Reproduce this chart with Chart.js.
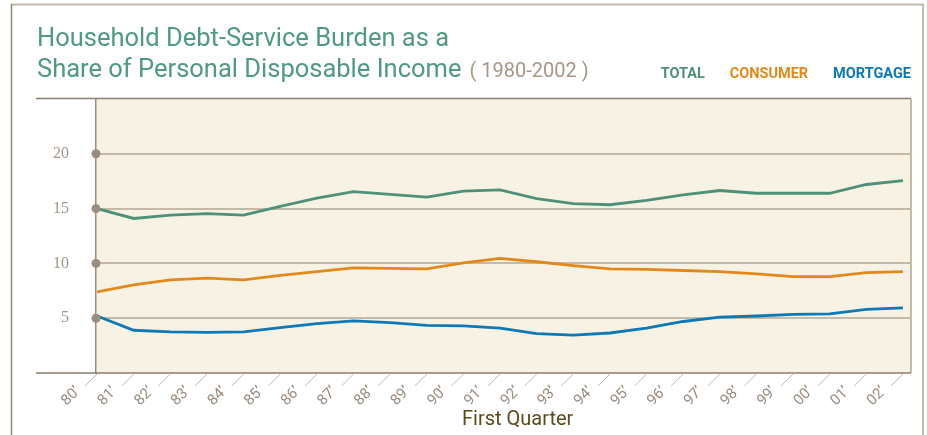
<!DOCTYPE html>
<html>
<head>
<meta charset="utf-8">
<title>Household Debt-Service Burden</title>
<script src="https://cdn.jsdelivr.net/npm/chart.js@4.4.1/dist/chart.umd.min.js"></script>
<style>
    html, body { margin: 0; padding: 0; background: #ffffff; }
    #wrap { width: 927px; height: 435px; }
</style>
</head>
<body>
<div id="wrap"><canvas id="debtChart" width="927" height="435"></canvas></div>
<script>
// First-quarter readings, 1980-2002 (percent of disposable income)
const years = ["80’", "81’", "82’", "83’", "84’", "85’", "86’", "87’", "88’", "89’", "90’", "91’",
    "92’", "93’", "94’", "95’", "96’", "97’", "98’", "99’", "00’", "01’", "02’"];
const totalBurden = [15.0, 14.1, 14.4, 14.55, 14.4, 15.2, 15.95, 16.55, 16.3, 16.05, 16.6, 16.7,
    15.9, 15.45, 15.35, 15.75, 16.25, 16.65, 16.4, 16.4, 16.4, 17.2, 17.55];
const consumerBurden = [7.4, 8.05, 8.5, 8.65, 8.5, 8.9, 9.25, 9.6, 9.55, 9.5, 10.05, 10.45,
    10.15, 9.8, 9.5, 9.45, 9.35, 9.25, 9.05, 8.8, 8.8, 9.15, 9.25];
const mortgageBurden = [5.2, 3.9, 3.75, 3.7, 3.75, 4.15, 4.5, 4.75, 4.6, 4.35, 4.3, 4.1,
    3.6, 3.45, 3.65, 4.1, 4.7, 5.1, 5.2, 5.35, 5.4, 5.8, 5.95];
const yTicks = [5, 10, 15, 20];

const GREEN = '#4d917a';
const ORANGE = '#e3891c';
const BLUE = '#0a79b4';
const TAUPE = '#9a8c7e';
const RULE = '#c5b9a7';

function toPoints(values) {
    return values.map((v, i) => ({ x: i, y: v }));
}

// Background, frame, header text, dots and slanted ticks
const decorPlugin = {
    id: 'decor',
    beforeDraw(chart) {
        const { ctx, chartArea: a } = chart;
        ctx.save();
        ctx.fillStyle = '#ffffff';
        ctx.fillRect(0, 0, chart.width, chart.height);
        ctx.fillStyle = '#f8f2e4';
        ctx.fillRect(a.left, a.top, a.right - a.left, a.bottom - a.top);
        ctx.restore();
    },
    afterDraw(chart) {
        const { ctx, chartArea: a, scales } = chart;
        ctx.save();

        // outer frame
        ctx.strokeStyle = '#c4bbae';
        ctx.lineWidth = 2;
        ctx.beginPath();
        ctx.moveTo(11, 4.5); ctx.lineTo(924, 4.5);
        ctx.moveTo(923, 4); ctx.lineTo(923, 435);
        ctx.stroke();
        ctx.strokeStyle = '#938676';
        ctx.lineWidth = 1.5;
        ctx.beginPath();
        ctx.moveTo(11.5, 4); ctx.lineTo(11.5, 435);
        ctx.stroke();

        // right edge of plot
        ctx.strokeStyle = RULE;
        ctx.lineWidth = 2;
        ctx.beginPath();
        ctx.moveTo(a.right, a.top); ctx.lineTo(a.right, a.bottom);
        ctx.stroke();

        // header rule and base rule
        ctx.strokeStyle = '#8c7f6f';
        ctx.lineWidth = 1.5;
        ctx.beginPath();
        ctx.moveTo(36, a.top - 0.5); ctx.lineTo(a.right, a.top - 0.5);
        ctx.moveTo(36, a.bottom); ctx.lineTo(a.right, a.bottom);
        ctx.stroke();

        // dots at gridline starts
        ctx.fillStyle = TAUPE;
        yTicks.forEach(v => {
            const y = scales.y.getPixelForValue(v);
            ctx.beginPath();
            ctx.arc(a.left, y, 4.5, 0, Math.PI * 2);
            ctx.fill();
        });

        // slanted x ticks
        ctx.strokeStyle = RULE;
        ctx.lineWidth = 1;
        scales.x.ticks.forEach(t => {
            const x = scales.x.getPixelForValue(t.value);
            ctx.beginPath();
            ctx.moveTo(x, a.bottom + 1);
            ctx.lineTo(x - 12, a.bottom + 13);
            ctx.stroke();
        });

        // title
        ctx.textBaseline = 'alphabetic';
        ctx.textAlign = 'left';
        ctx.fillStyle = '#4f9a80';
        ctx.font = '25.5px Roboto';
        ctx.fillText('Household Debt-Service Burden as a', 37, 46);
        const line2 = 'Share of Personal Disposable Income';
        ctx.fillText(line2, 37, 77);
        const w2 = ctx.measureText(line2).width;
        ctx.fillStyle = '#a69786';
        ctx.font = '20px Roboto';
        ctx.fillText('( 1980-2002 )', 37 + w2 + 8, 77);

        // legend, right aligned
        ctx.font = 'bold 14.5px Roboto';
        ctx.textAlign = 'right';
        let x = a.right;
        chart.data.datasets.slice().reverse().forEach(ds => {
            const txt = ds.label.toUpperCase();
            ctx.fillStyle = ds.borderColor;
            ctx.fillText(txt, x, 78);
            x -= ctx.measureText(txt).width + 25;
        });

        // axis caption
        ctx.textAlign = 'left';
        ctx.fillStyle = '#5a4a1c';
        ctx.font = '20px Roboto';
        ctx.fillText('First Quarter', 462, 425);

        ctx.restore();
    }
};

const ctx = document.getElementById('debtChart').getContext('2d');

window.debtChart = new Chart(ctx, {
    type: 'line',
    data: {
        datasets: [{
            label: 'Total',
            data: toPoints(totalBurden),
            borderColor: GREEN,
            borderWidth: 2.8
        }, {
            label: 'Consumer',
            data: toPoints(consumerBurden),
            borderColor: ORANGE,
            borderWidth: 2.8
        }, {
            label: 'Mortgage',
            data: toPoints(mortgageBurden),
            borderColor: BLUE,
            borderWidth: 2.8
        }]
    },
    options: {
        responsive: false,
        animation: false,
        devicePixelRatio: 1,
        layout: { padding: { top: 99, right: 16, left: 0, bottom: 0 } },
        elements: { point: { radius: 0 }, line: { tension: 0 } },
        plugins: {
            legend: { display: false },
            tooltip: { enabled: false }
        },
        scales: {
            x: {
                type: 'linear',
                min: -0.03,
                max: 22.22,
                afterBuildTicks: scale => {
                    scale.ticks = years.map((_, i) => ({ value: i }));
                },
                afterFit: scale => { scale.height = 62; },
                grid: { display: false },
                border: { display: false },
                ticks: {
                    autoSkip: false,
                    minRotation: 45,
                    maxRotation: 45,
                    padding: 2,
                    labelOffset: -19,
                    color: TAUPE,
                    font: { family: 'Roboto', size: 15 },
                    callback: value => years[value]
                }
            },
            y: {
                min: 0,
                max: 25,
                afterFit: scale => { scale.width = 96; },
                grid: {
                    drawTicks: false,
                    lineWidth: 2,
                    color: c => yTicks.includes(c.tick.value) ? RULE : 'transparent'
                },
                border: { color: TAUPE, width: 1.5 },
                ticks: {
                    stepSize: 5,
                    padding: 27,
                    color: '#a39585',
                    font: { family: 'Liberation Serif', size: 16 },
                    callback: value => yTicks.includes(value) ? String(value) : ''
                }
            }
        }
    },
    plugins: [decorPlugin]
});
</script>
</body>
</html>
